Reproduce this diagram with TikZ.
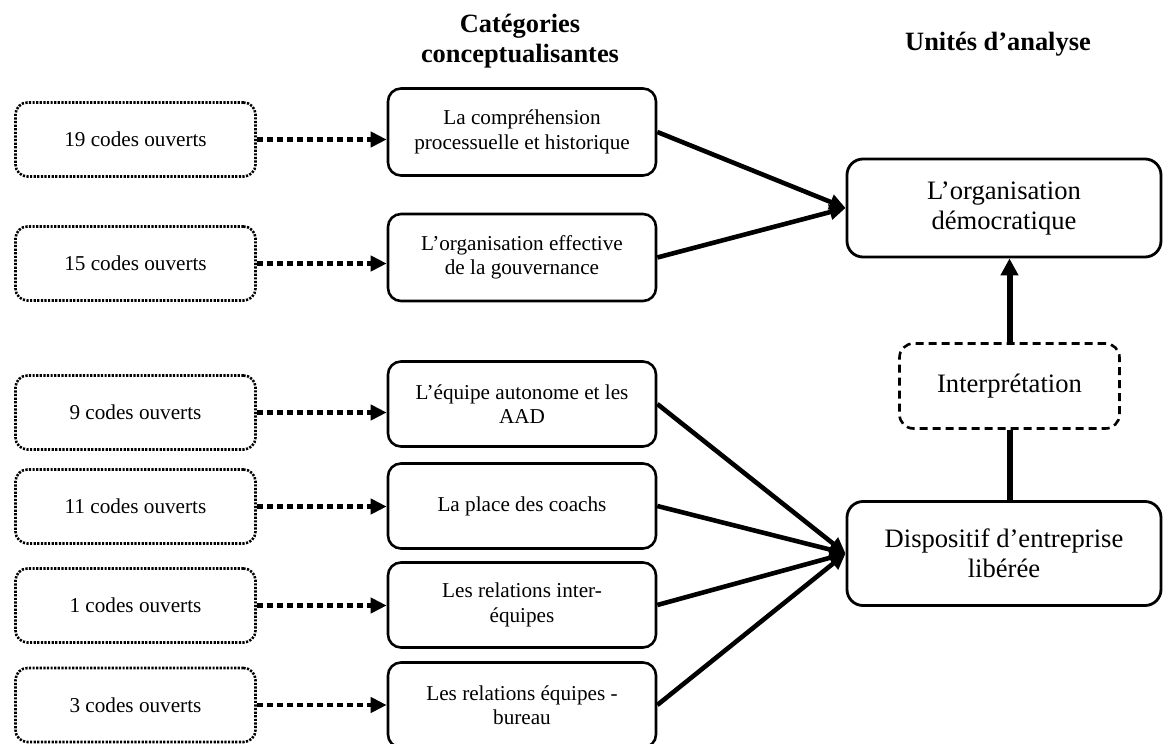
\documentclass[tikz,border=0pt]{standalone}
\usepackage{fontspec}
\setmainfont{Liberation Serif}
\usetikzlibrary{arrows.meta}
\begin{document}
\begin{tikzpicture}[x=0.5pt,y=-0.5pt,line join=round,>={Triangle[length=8pt,width=7.5pt]},
	codebox/.style={draw,line width=1.3pt,dash pattern=on 1.1pt off 0.7pt,rounded corners=6pt,minimum width=120pt,minimum height=37pt,font=\fontsize{10.6}{12.2}\selectfont},
	catbox/.style={draw,line width=1.3pt,rounded corners=6.5pt,minimum width=134pt,minimum height=42.5pt,align=center,font=\fontsize{10.6}{12.2}\selectfont},
	unitbox/.style={draw,line width=1.4pt,rounded corners=8pt,minimum width=157pt,minimum height=49pt,align=center,font=\fontsize{13.3}{15}\selectfont},
	interbox/.style={draw,line width=1.3pt,dash pattern=on 4pt off 2.5pt,rounded corners=7pt,minimum width=110pt,minimum height=42.5pt,font=\fontsize{13.3}{15}\selectfont},
	title/.style={align=center,font=\bfseries\fontsize{13.2}{15}\selectfont},
	codearrow/.style={->,line width=2.3pt,dash pattern=on 3.3pt off 1.7pt},
	link/.style={->,line width=2.3pt}]
	\useasboundingbox (0,0) rectangle (1164,744);
	\node[title] (tcat) at (520,41) {Catégories\\conceptualisantes};
	\node[title] (tunit) at (998,44) {Unités d’analyse};
	\node[codebox] (c1) at (135.5,139.5) {19 codes ouverts};
	\node[codebox] (c2) at (135.5,263.5) {15 codes ouverts};
	\node[codebox] (c3) at (135.5,412.5) {9 codes ouverts};
	\node[codebox] (c4) at (135.5,506.5) {11 codes ouverts};
	\node[codebox] (c5) at (135.5,605.5) {1 codes ouverts};
	\node[codebox] (c6) at (135.5,705) {3 codes ouverts};
	\node[catbox,minimum height=43.5pt] (k1) at (522,132) {La compréhension\\processuelle et historique};
	\node[catbox,minimum height=43.5pt] (k2) at (522,257.5) {L’organisation effective\\de la gouvernance};
	\node[catbox] (k3) at (522,404) {L’équipe autonome et les\\AAD};
	\node[catbox] (k4) at (522,506) {La place des coachs};
	\node[catbox] (k5) at (522,605) {Les relations inter-\\équipes};
	\node[catbox] (k6) at (522,705) {Les relations équipes -\\bureau};
	\node[unitbox] (u1) at (1004,208) {L’organisation\\démocratique};
	\node[interbox] (ip) at (1009.5,386) {Interprétation};
	\node[unitbox,minimum height=52pt] (u2) at (1004,553.5) {Dispositif d’entreprise\\libérée};
	\foreach \i in {1,...,6}
		\draw[codearrow] (c\i.east) -- (c\i.east -| k\i.west);
	\foreach \i in {1,2}
		\draw[link] (k\i.east) -- (u1.west);
	\foreach \i in {3,...,6}
		\draw[link] (k\i.east) -- (u2.west);
	\draw[line width=3pt] (ip.south) -- (ip.south |- u2.north);
	\draw[->,line width=3pt,>={Triangle[length=8.5pt,width=8.5pt]}] (ip.north) -- (ip.north |- u1.south);
\end{tikzpicture}
\end{document}
